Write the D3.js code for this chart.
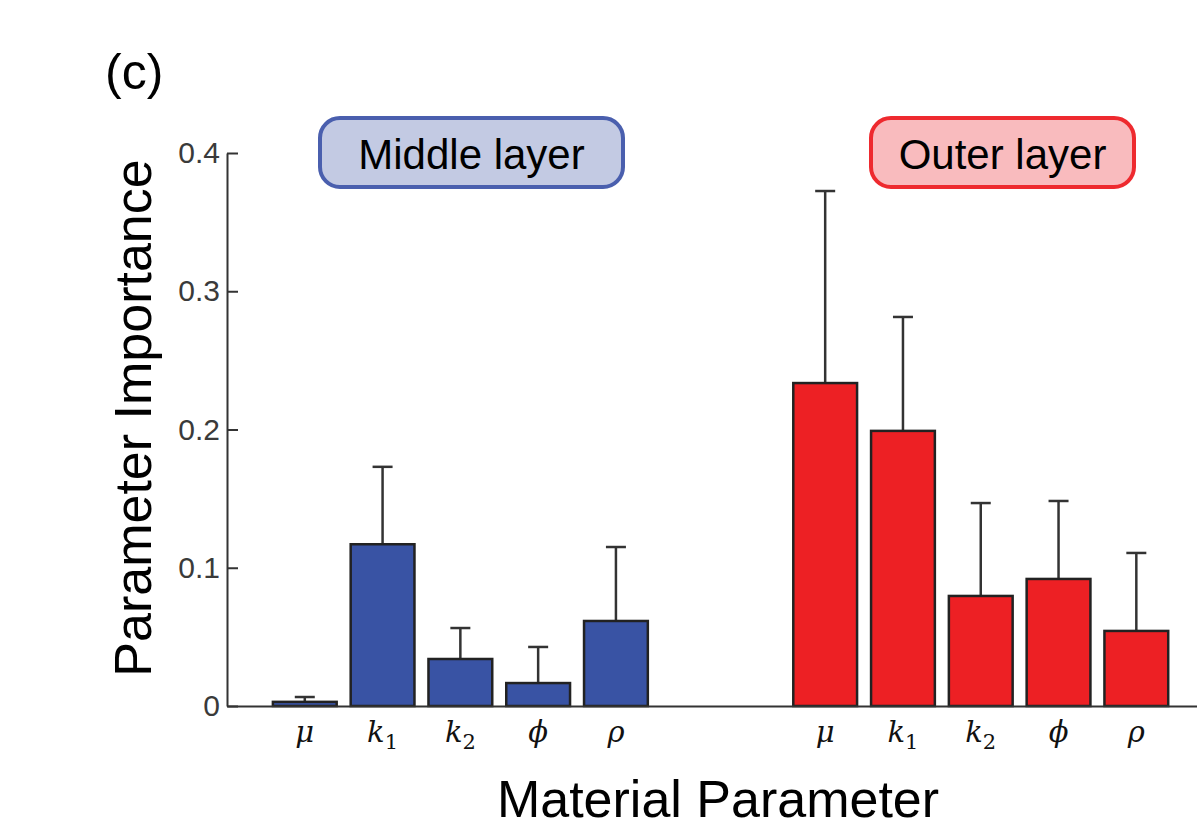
<!DOCTYPE html>
<html>
<head>
<meta charset="utf-8">
<script src="https://cdn.jsdelivr.net/npm/d3@7"></script>
<style>
  body { margin: 0; background: #fff; }
  svg { display: block; font-family: "Liberation Sans", Arial, sans-serif; }
</style>
</head>
<body>
<div id="chart"></div>
<script>
// parameter names (symbol + subscript)
const params = [
  {sym: "μ", sub: ""},
  {sym: "k", sub: "1"},
  {sym: "k", sub: "2"},
  {sym: "ϕ", sub: ""},
  {sym: "ρ", sub: ""}
];

// x positions of the bars, in axis units
const middlePos = [1, 2, 3, 4, 5];
const outerPos = [7.69, 8.69, 9.69, 10.69, 11.69];

// mean importance and mean + error (cap)
const middleVals = [0.003, 0.117, 0.034, 0.0166, 0.0615];
const middleTops = [0.0065, 0.173, 0.0564, 0.0427, 0.115];
const outerVals = [0.2336, 0.199, 0.0796, 0.0919, 0.0543];
const outerTops = [0.3725, 0.2814, 0.1468, 0.1483, 0.1107];

const yTicks = [0, 0.1, 0.2, 0.3, 0.4];
const yTickLabels = ["0", "0.1", "0.2", "0.3", "0.4"];

const groups = [
  {name: "Middle layer", pos: middlePos, vals: middleVals, tops: middleTops,
   fill: "#3953a4", boxFill: "#c3cae3", boxStroke: "#4a5fae"},
  {name: "Outer layer", pos: outerPos, vals: outerVals, tops: outerTops,
   fill: "#ed2024", boxFill: "#f9bbbe", boxStroke: "#ee2a2f"}
];

const W = 1197, H = 832;
const svg = d3.select("#chart").append("svg")
  .attr("width", W).attr("height", H);

const x = d3.scaleLinear().domain([0, 12.47]).range([227, 1197]);
const y = d3.scaleLinear().domain([0, 0.4]).range([706, 153]);
const barW = x(0.82) - x(0);

// bars + error bars
groups.forEach(g => {
  const rows = g.pos.map((p, i) => ({p: p, v: g.vals[i], t: g.tops[i]}));
  const eg = svg.append("g");
  eg.selectAll("line.err")
    .data(rows).enter().append("line")
      .attr("x1", d => x(d.p)).attr("x2", d => x(d.p))
      .attr("y1", d => y(d.v)).attr("y2", d => y(d.t))
      .attr("stroke", "#333").attr("stroke-width", 2.5);
  eg.selectAll("line.cap")
    .data(rows).enter().append("line")
      .attr("x1", d => x(d.p) - 10).attr("x2", d => x(d.p) + 10)
      .attr("y1", d => y(d.t)).attr("y2", d => y(d.t))
      .attr("stroke", "#333").attr("stroke-width", 2.5);
  eg.selectAll("rect")
    .data(rows).enter().append("rect")
      .attr("x", d => x(d.p) - barW / 2)
      .attr("y", d => y(d.v))
      .attr("width", barW)
      .attr("height", d => y(0) - y(d.v))
      .attr("fill", g.fill)
      .attr("stroke", "#222").attr("stroke-width", 2.5);

  // x tick labels (italic serif symbols)
  const lbl = svg.append("g").selectAll("text")
    .data(g.pos).enter().append("text")
      .attr("x", d => x(d))
      .attr("y", 742)
      .attr("text-anchor", "middle")
      .style("font-family", "'DejaVu Serif', 'Liberation Serif', serif")
      .style("font-size", "29px")
      .attr("fill", "#111");
  lbl.append("tspan")
    .style("font-style", "italic")
    .text((d, i) => params[i].sym);
  lbl.append("tspan")
    .attr("dy", 7)
    .style("font-size", "21px")
    .text((d, i) => params[i].sub);
});

// y axis
const yAxis = d3.axisRight(y)
  .tickValues(yTicks)
  .tickFormat((d, i) => yTickLabels[i])
  .tickSize(11)
  .tickSizeOuter(0);
const ya = svg.append("g")
  .attr("transform", `translate(${x(0)},0)`)
  .call(yAxis);
ya.select(".domain").attr("stroke", "#333").attr("stroke-width", 2);
ya.selectAll(".tick line").attr("stroke", "#333").attr("stroke-width", 2);
ya.selectAll(".tick text")
  .attr("x", -7)
  .attr("text-anchor", "end")
  .attr("fill", "#3a3a3a")
  .style("font-family", "'Liberation Sans', Arial, sans-serif")
  .style("font-size", "30px");

// x axis line (no ticks)
svg.append("g")
  .attr("transform", `translate(0,${y(0)})`)
  .call(d3.axisBottom(x).tickValues([]).tickSizeOuter(0))
  .select(".domain").attr("stroke", "#333").attr("stroke-width", 2);

// group legend boxes
const boxes = [
  {g: groups[0], x0: 320, x1: 623},
  {g: groups[1], x0: 871, x1: 1134}
];
boxes.forEach(b => {
  svg.append("rect")
    .attr("x", b.x0).attr("y", 118)
    .attr("width", b.x1 - b.x0).attr("height", 69)
    .attr("rx", 20).attr("ry", 20)
    .attr("fill", b.g.boxFill)
    .attr("stroke", b.g.boxStroke).attr("stroke-width", 4);
  svg.append("text")
    .attr("x", (b.x0 + b.x1) / 2).attr("y", 169)
    .attr("text-anchor", "middle")
    .style("font-size", "42px")
    .attr("fill", "#000")
    .text(b.g.name);
});

// titles
svg.append("text")
  .attr("x", 105).attr("y", 89)
  .style("font-size", "50px")
  .text("(c)");

svg.append("text")
  .attr("x", 718).attr("y", 817)
  .attr("text-anchor", "middle")
  .style("font-size", "52px")
  .text("Material Parameter");

svg.append("text")
  .attr("transform", "translate(151,418) rotate(-90)")
  .attr("text-anchor", "middle")
  .style("font-size", "52px")
  .text("Parameter Importance");
</script>
</body>
</html>
